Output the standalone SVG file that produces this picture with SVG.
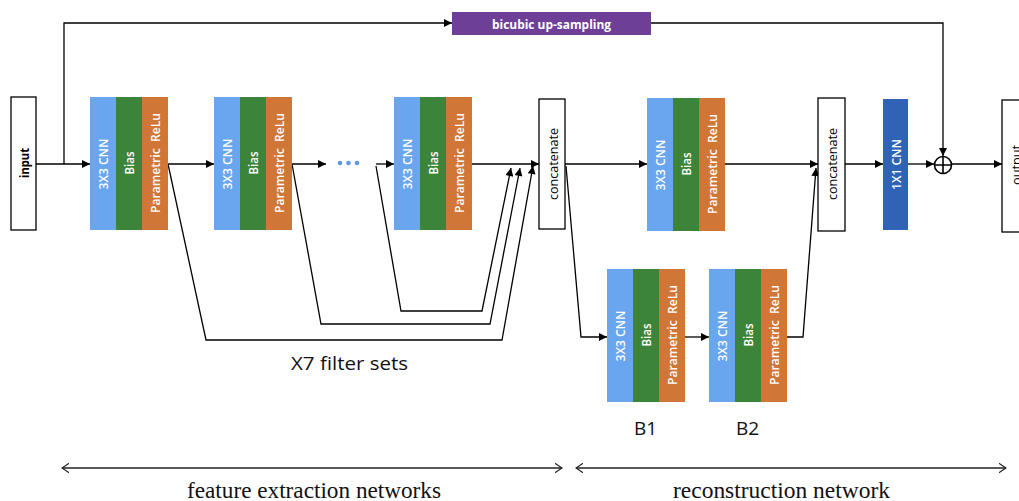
<svg xmlns="http://www.w3.org/2000/svg" width="1019" height="501" viewBox="0 0 1019 501">
<defs>
<style>
.c1{fill:#69a6ef}.c2{fill:#3c843a}.c3{fill:#d07636}
.bl{font-family:"Open Sans","Liberation Sans",sans-serif;font-size:13px;font-weight:600;fill:#fff;text-anchor:middle;dominant-baseline:central}
.box{fill:#fff;stroke:#000;stroke-width:1.3}
.bt{font-family:"Open Sans","Liberation Sans",sans-serif;font-size:13px;fill:#000;text-anchor:middle;dominant-baseline:central}
.ln{fill:none;stroke:#000;stroke-width:1.3}
.br{fill:none;stroke:#222;stroke-width:1.6}
.lab{font-family:"Open Sans","Liberation Sans",sans-serif;font-size:19px;fill:#111;text-anchor:middle}
.ser{font-family:"Liberation Serif","Times New Roman",serif;font-size:23px;fill:#111;text-anchor:middle}
</style>
<marker id="ah" viewBox="0 0 10 10" refX="10" refY="5" markerWidth="9" markerHeight="8" markerUnits="userSpaceOnUse" orient="auto"><path d="M0,0 L10,5 L0,10 z" fill="#000"/></marker>
<marker id="oh" viewBox="0 0 10 12" refX="9" refY="6" markerWidth="8" markerHeight="10" markerUnits="userSpaceOnUse" orient="auto-start-reverse"><path d="M0,0 L9,6 L0,12" fill="none" stroke="#222" stroke-width="1.5"/></marker>
<g id="blk">
<rect class="c1" x="0" y="0" width="26" height="133"/>
<rect class="c2" x="26" y="0" width="26" height="133"/>
<rect class="c3" x="52" y="0" width="26" height="133"/>
<text class="bl" transform="translate(13,67) rotate(-90)" textLength="51" lengthAdjust="spacingAndGlyphs">3X3 CNN</text>
<text class="bl" transform="translate(39,66) rotate(-90)" textLength="23" lengthAdjust="spacingAndGlyphs">Bias</text>
<text class="bl" transform="translate(65,66) rotate(-90)" textLength="100" lengthAdjust="spacingAndGlyphs" xml:space="preserve">Parametric  ReLu</text>
</g>
</defs>
<rect width="1019" height="501" fill="#fff"/>

<g id="connectors">
<path class="ln" d="M36,164 H90" marker-end="url(#ah)"/>
<path class="ln" d="M64,164 V23 H452" marker-end="url(#ah)"/>
<path class="ln" d="M651,23 H943 V156" marker-end="url(#ah)"/>
<path class="ln" d="M168,164 H214" marker-end="url(#ah)"/>
<path class="ln" d="M292,164 H326" marker-end="url(#ah)"/>
<path class="ln" d="M376,164 H394" marker-end="url(#ah)"/>
<path class="ln" d="M471,164 H539" marker-end="url(#ah)"/>
<path class="ln" d="M376,166 L401,311 H482 L511,168" marker-end="url(#ah)"/>
<path class="ln" d="M292,164 L321,324 H490 L520,168" marker-end="url(#ah)"/>
<path class="ln" d="M168,164 L206,340 H502 L533,166" marker-end="url(#ah)"/>
<path class="ln" d="M565,164 H647" marker-end="url(#ah)"/>
<path class="ln" d="M566,166 L581,337 H607" marker-end="url(#ah)"/>
<path class="ln" d="M684,337 H709" marker-end="url(#ah)"/>
<path class="ln" d="M787,337 H803 L816,168" marker-end="url(#ah)"/>
<path class="ln" d="M724,164 H818" marker-end="url(#ah)"/>
<path class="ln" d="M845,164 H883" marker-end="url(#ah)"/>
<path class="ln" d="M908,164 H934" marker-end="url(#ah)"/>
<path class="ln" d="M952,164 H1002" marker-end="url(#ah)"/>
<path class="br" d="M62,468 H562" marker-start="url(#oh)" marker-end="url(#oh)"/>
<path class="br" d="M576,468 H1006" marker-start="url(#oh)" marker-end="url(#oh)"/>
</g>

<g id="input"><rect class="box" x="11" y="97" width="25" height="133"/>
<text class="bt" font-weight="bold" transform="translate(24,163) rotate(-90)" textLength="30" lengthAdjust="spacingAndGlyphs">input</text></g>

<g id="bicubic"><rect x="452" y="12" width="199" height="23" fill="#6e3f97"/>
<text x="551.5" y="29" font-family="Open Sans, Liberation Sans, sans-serif" font-size="13" font-weight="bold" fill="#fff" text-anchor="middle" textLength="119" lengthAdjust="spacingAndGlyphs">bicubic up-sampling</text></g>

<g id="block1"><use href="#blk" x="90" y="97"/></g>
<g id="block2"><use href="#blk" x="214" y="97"/></g>
<g id="dots" fill="#5b9be6"><circle cx="340" cy="163" r="2.3"/><circle cx="348.5" cy="163" r="2.3"/><circle cx="357" cy="163" r="2.3"/></g>
<g id="block3"><use href="#blk" x="394" y="97"/></g>

<g id="concat1"><rect class="box" x="539" y="99" width="26" height="130"/>
<text class="bt" transform="translate(552.5,164) rotate(-90)" textLength="72" lengthAdjust="spacingAndGlyphs">concatenate</text></g>

<g id="block4"><use href="#blk" x="647" y="98"/></g>
<g id="blockB1"><use href="#blk" x="607" y="269"/></g>
<g id="blockB2"><use href="#blk" x="709" y="269"/></g>

<g id="concat2"><rect class="box" x="818" y="98" width="27" height="133"/>
<text class="bt" transform="translate(832,164) rotate(-90)" textLength="72" lengthAdjust="spacingAndGlyphs">concatenate</text></g>

<g id="conv1x1"><rect x="883" y="99" width="25" height="131" fill="#2f63b6"/>
<text class="bl" transform="translate(895.5,164.5) rotate(-90)" textLength="51" lengthAdjust="spacingAndGlyphs">1X1 CNN</text></g>

<g id="add"><circle cx="943" cy="165" r="8.5" fill="#fff" stroke="#000" stroke-width="1.6"/>
<path d="M934.5,165 H951.5 M943,156.5 V173.5" stroke="#000" stroke-width="1.6"/></g>

<g id="output"><rect class="box" x="1002" y="100" width="28" height="132"/>
<text class="bt" transform="translate(1016,165) rotate(-90)" textLength="40" lengthAdjust="spacingAndGlyphs">output</text></g>

<g id="labels">
<text class="lab" x="349.5" y="370" textLength="117" lengthAdjust="spacingAndGlyphs">X7 filter sets</text>
<text class="lab" x="645.5" y="435">B1</text>
<text class="lab" x="747.5" y="435">B2</text>
<text class="ser" x="314" y="498" textLength="254" lengthAdjust="spacingAndGlyphs">feature extraction networks</text>
<text class="ser" x="781.5" y="498" textLength="217" lengthAdjust="spacingAndGlyphs">reconstruction network</text>
</g>
</svg>
